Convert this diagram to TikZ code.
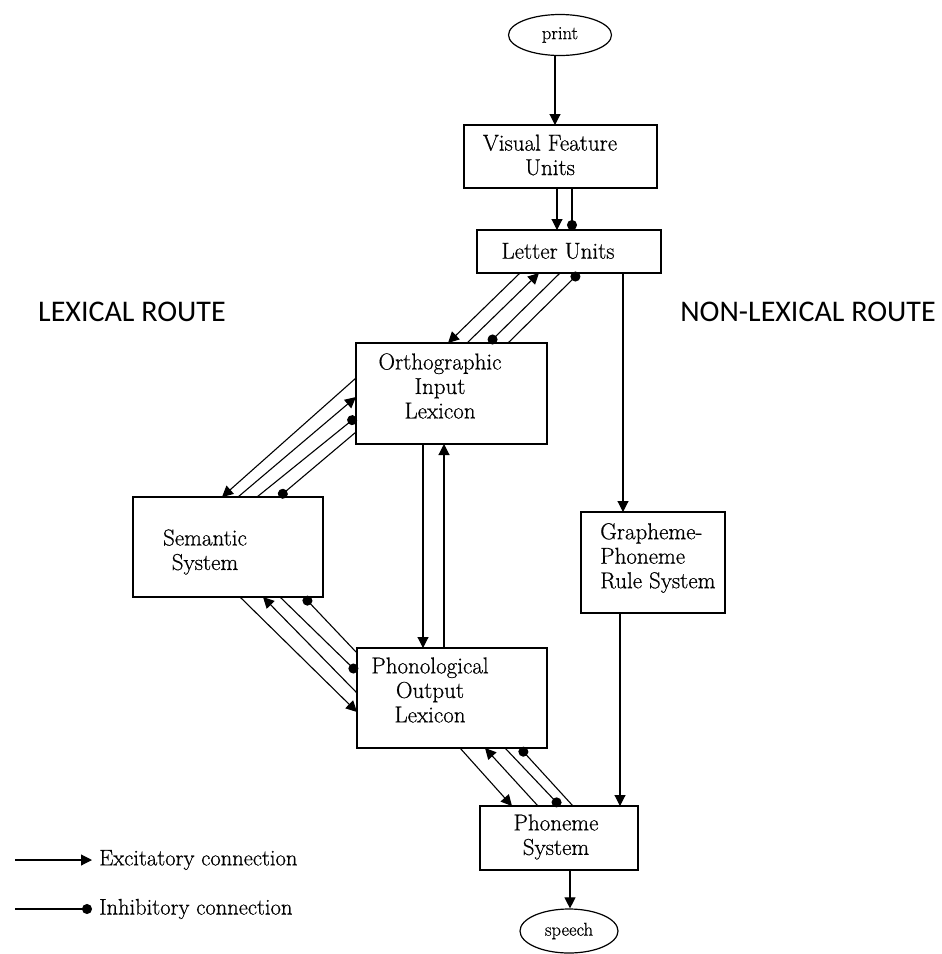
\documentclass[tikz,border=0pt]{standalone}
\usepackage{fontspec}
\newfontfamily\routefont{Carlito}
\newfontfamily\boxfont{Latin Modern Roman}[FakeBold=0.6]
\usetikzlibrary{arrows.meta,calc,shapes.geometric}
\begin{document}
\begin{tikzpicture}[x=1pt,y=-1pt,
  box/.style={draw, line width=1.2pt, inner sep=0pt, outer sep=0pt, anchor=north west},
  lbl/.style={font=\boxfont\fontsize{23}{24.5}\selectfont, align=center, inner sep=0pt},
  oval/.style={draw, ellipse, line width=1.2pt, inner sep=0pt, font=\boxfont\fontsize{18.5}{20}\selectfont},
  conn/.style={line width=1.1pt},
  exc/.style={conn, -{Triangle[length=11pt,width=11pt]}},
  inh/.style={conn, -{Circle[length=10pt]}},
  leg/.style={font=\boxfont\fontsize{22.5}{24}\selectfont, inner xsep=7pt, inner ysep=0pt, anchor=west},
  route/.style={font=\routefont\fontsize{30}{33}\selectfont, inner sep=0pt}
]
\useasboundingbox (0,0) rectangle (942,954);

% nodes
\node[oval, minimum width=103pt, minimum height=41pt] (print) at (560,35) {print};
\node[box, minimum width=193pt, minimum height=63pt] (vfu) at (464,125) {};
\node[lbl] (vfut) at (550,155) {Visual Feature\\Units};
\node[box, minimum width=184pt, minimum height=43pt] (lu) at (477,230) {};
\node[lbl] (lut) at (558,251) {Letter Units};
\node[box, minimum width=191pt, minimum height=101pt] (oil) at (356,343) {};
\node[lbl] (oilt) at (440,386) {Orthographic\\Input\\Lexicon};
\node[box, minimum width=190pt, minimum height=100pt] (sem) at (133,497) {};
\node[lbl] (semt) at (205,552) {Semantic\\System};
\node[box, minimum width=144pt, minimum height=101pt] (gpr) at (581,512) {};
\node[lbl, align=left, anchor=west] (gprt) at (600,558) {Grapheme-\\Phoneme\\Rule System};
\node[box, minimum width=190pt, minimum height=100pt] (pol) at (357,648) {};
\node[lbl] (polt) at (430,690) {Phonological\\Output\\Lexicon};
\node[box, minimum width=158pt, minimum height=64pt] (ph) at (480,806) {};
\node[lbl] (pht) at (556,837) {Phoneme\\System};
\node[oval, minimum width=98pt, minimum height=44pt] (speech) at (569,931) {speech};

\node[route] (lex) at (132,312) {LEXICAL ROUTE};
\node[route] (nonlex) at (808,312) {NON-LEXICAL ROUTE};

% vertical connections
\draw[exc] (print.south -| 555,0) -- (vfu.north -| 555,0);
\draw[exc] (vfu.south -| 557,0) -- (lu.north -| 557,0);
\draw[inh] (vfu.south -| 572,0) -- (lu.north -| 572,0);
\draw[exc] (lu.south -| 623,0) -- (gpr.north -| 623,0);
\draw[exc] (gpr.south -| 620,0) -- (ph.north -| 620,0);
\draw[exc] (oil.south -| 423,0) -- (pol.north -| 423,0);
\draw[exc] (pol.north -| 444,0) -- (oil.south -| 444,0);
\draw[exc] (ph.south -| 570,0) -- (speech.north -| 570,0);

% letter units <-> orthographic input lexicon
\draw[exc] (lu.south -| 520,0) -- (oil.north -| 448,0);
\draw[exc] (oil.north -| 467,0) -- (lu.south -| 539,0);
\draw[inh] (lu.south -| 560,0) -- (oil.north -| 489,0);
\draw[inh] (oil.north -| 508,0) -- (lu.south -| 579,0);

% orthographic input lexicon <-> semantic system
\draw[exc] (oil.west |- 0,378) -- (sem.north -| 222,0);
\draw[exc] (sem.north -| 238,0) -- (oil.west |- 0,397);
\draw[inh] (sem.north -| 257,0) -- (oil.west |- 0,417);
\draw[inh] (oil.west |- 0,432) -- (sem.north -| 279,0);

% semantic system <-> phonological output lexicon
\draw[exc] (sem.south -| 240,0) -- (pol.west |- 0,712);
\draw[exc] (pol.west |- 0,693) -- (sem.south -| 263,0);
\draw[inh] (sem.south -| 280,0) -- (pol.west |- 0,672);
\draw[inh] (pol.west |- 0,653) -- (sem.south -| 304,0);

% phonological output lexicon <-> phoneme system
\draw[exc] (pol.south -| 460,0) -- (ph.north -| 512,0);
\draw[exc] (ph.north -| 538,0) -- (pol.south -| 485,0);
\draw[inh] (pol.south -| 505,0) -- (ph.north -| 560,0);
\draw[inh] (ph.north -| 573,0) -- (pol.south -| 520,0);

% legend
\coordinate (le1) at (15,860);
\node[leg] (lt1) at (92,860) {Excitatory connection};
\draw[exc] (le1) -- (lt1.west);
\coordinate (le2) at (15,909);
\node[leg] (lt2) at (92,909) {Inhibitory connection};
\draw[inh] (le2) -- (lt2.west);
\end{tikzpicture}
\end{document}
